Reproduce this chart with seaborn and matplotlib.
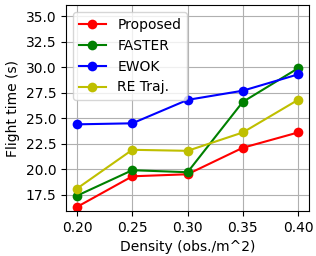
import numpy as np
import pandas as pd
import seaborn as sns
import matplotlib
matplotlib.use('Agg')
import matplotlib.pyplot as plt

density = [0.20, 0.25, 0.30, 0.35, 0.40]
proposed = [16.3, 19.3, 19.5, 22.1, 23.6]
faster = [17.4, 19.9, 19.7, 26.6, 29.9]
ewok = [24.4, 24.5, 26.8, 27.7, 29.3]
re_traj = [18.1, 21.9, 21.8, 23.6, 26.8]

methods = ['Proposed', 'FASTER', 'EWOK', 'RE Traj.']
colors = ['r', 'g', 'b', 'y']

df = pd.DataFrame({
    'density': density * 4,
    'time': proposed + faster + ewok + re_traj,
    'method': [m for m in methods for _ in density],
})

fig, ax = plt.subplots(figsize=(3.16, 2.56), dpi=100)
sns.lineplot(data=df, x='density', y='time', hue='method', hue_order=methods,
             palette=colors, marker='o', markersize=7, markeredgewidth=0,
             linewidth=1.5, ax=ax)
ax.grid(True, color='#b0b0b0', linewidth=0.8)
ax.set_axisbelow(True)
ax.set_xticks(density)
ax.set_yticks(np.arange(17.5, 36, 2.5))
ax.set_ylim(15.9, 36.1)
ax.set_xlabel('Density (obs./m^2)')
ax.set_ylabel('Flight time (s)')
ax.legend(loc='upper left')
fig.subplots_adjust(left=0.209, right=0.978, top=0.98, bottom=0.176)
plt.savefig('out.png')
